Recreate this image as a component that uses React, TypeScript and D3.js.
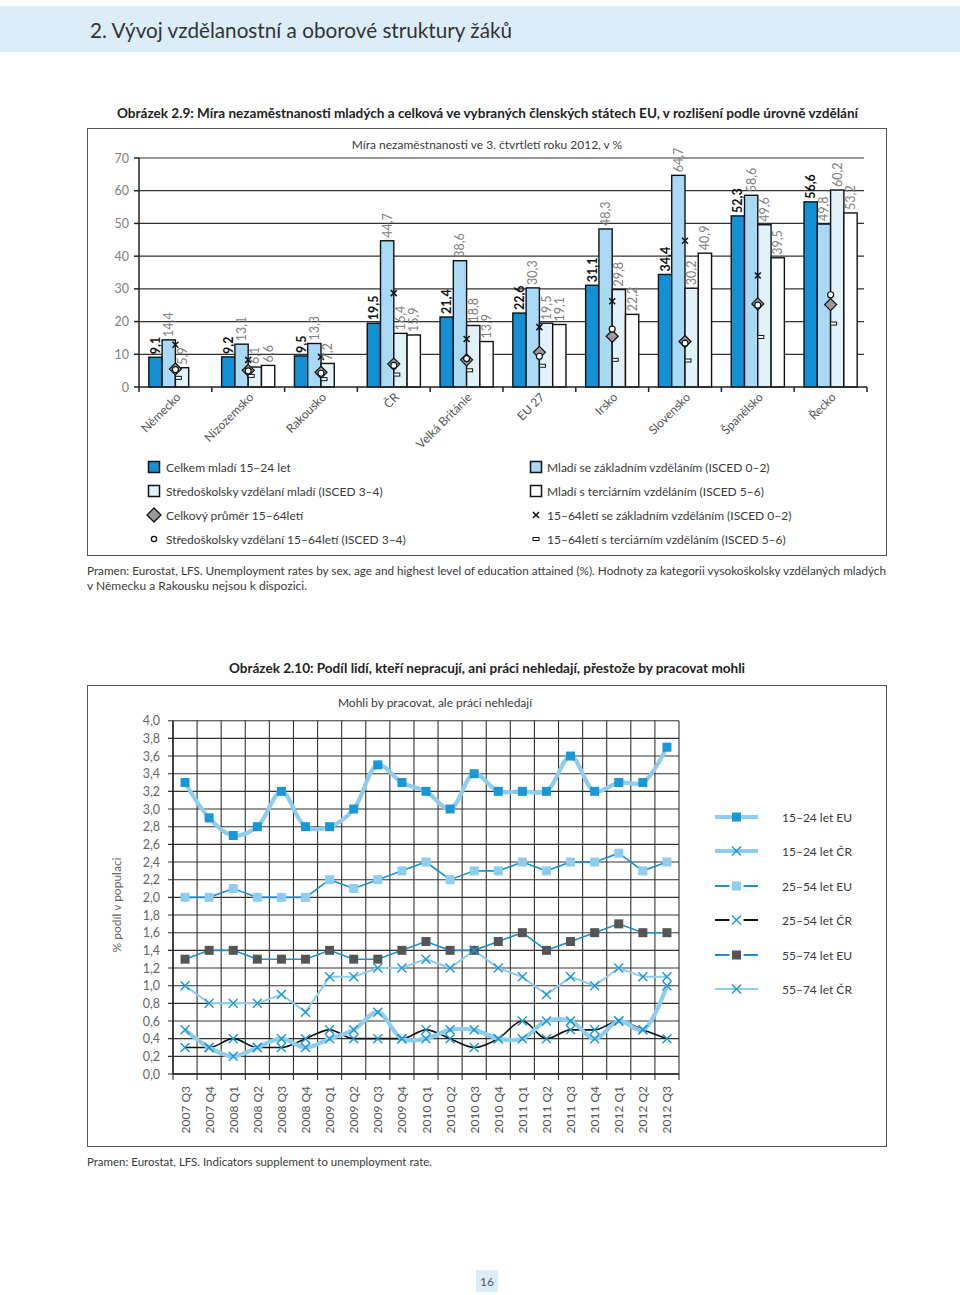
import React from 'react';
import * as d3 from 'd3';

// ---------- Chart 2.9 data ----------
const countries = ['Německo', 'Nizozemsko', 'Rakousko', 'ČR', 'Velká Británie', 'EU 27', 'Irsko', 'Slovensko', 'Španělsko', 'Řecko'];
const youthTotal = [9.1, 9.2, 9.5, 19.5, 21.4, 22.6, 31.1, 34.4, 52.3, 56.6];
const youthBasic = [14.4, 13.1, 13.3, 44.7, 38.6, 30.3, 48.3, 64.7, 58.6, 49.8];
const youthUpperSec = [5.9, 6.1, 7.2, 16.4, 18.8, 19.5, 29.8, 30.2, 49.6, 60.2];
const youthTertiary: (number | null)[] = [null, 6.6, null, 15.9, 13.9, 19.1, 22.2, 40.9, 39.5, 53.2];
const adultTotal = [5.5, 5.1, 4.5, 7.0, 8.3, 10.6, 15.5, 13.9, 25.4, 25.2];
const adultBasic: (number | null)[] = [12.9, 8.3, 9.2, 28.7, 14.7, 18.3, 26.2, 44.7, 34.1, null];
const adultUpperSec = [5.3, 4.9, 4.2, 6.6, 8.7, 9.4, 17.7, 13.4, 25.0, 28.2];
const adultTertiary = [2.8, 3.4, 2.4, 3.8, 5.1, 6.5, 8.3, 8.1, 15.3, 19.4];
const topTicks = [0, 10, 20, 30, 40, 50, 60, 70];

// ---------- Chart 2.10 data ----------
const quarters = ['2007 Q3', '2007 Q4', '2008 Q1', '2008 Q2', '2008 Q3', '2008 Q4', '2009 Q1', '2009 Q2', '2009 Q3', '2009 Q4', '2010 Q1', '2010 Q2', '2010 Q3', '2010 Q4', '2011 Q1', '2011 Q2', '2011 Q3', '2011 Q4', '2012 Q1', '2012 Q2', '2012 Q3'];
const eu1524 = [3.3, 2.9, 2.7, 2.8, 3.2, 2.8, 2.8, 3.0, 3.5, 3.3, 3.2, 3.0, 3.4, 3.2, 3.2, 3.2, 3.6, 3.2, 3.3, 3.3, 3.7];
const cz1524 = [0.5, 0.3, 0.2, 0.3, 0.4, 0.3, 0.4, 0.5, 0.7, 0.4, 0.4, 0.5, 0.5, 0.4, 0.4, 0.6, 0.6, 0.4, 0.6, 0.5, 1.0];
const eu2554 = [2.0, 2.0, 2.1, 2.0, 2.0, 2.0, 2.2, 2.1, 2.2, 2.3, 2.4, 2.2, 2.3, 2.3, 2.4, 2.3, 2.4, 2.4, 2.5, 2.3, 2.4];
const cz2554 = [0.3, 0.3, 0.4, 0.3, 0.3, 0.4, 0.5, 0.4, 0.4, 0.4, 0.5, 0.4, 0.3, 0.4, 0.6, 0.4, 0.5, 0.5, 0.6, 0.5, 0.4];
const eu5574 = [1.3, 1.4, 1.4, 1.3, 1.3, 1.3, 1.4, 1.3, 1.3, 1.4, 1.5, 1.4, 1.4, 1.5, 1.6, 1.4, 1.5, 1.6, 1.7, 1.6, 1.6];
const cz5574 = [1.0, 0.8, 0.8, 0.8, 0.9, 0.7, 1.1, 1.1, 1.2, 1.2, 1.3, 1.2, 1.4, 1.2, 1.1, 0.9, 1.1, 1.0, 1.2, 1.1, 1.1];
const bottomTicks = d3.range(0, 21).map((i) => i * 0.2);

const FONT = "Lato, 'DejaVu Sans', sans-serif";
const TXT = '#3a3a3a';
const GREY = '#808080';

const C_DARK = '#138fd3';
const C_LIGHT = '#a9d9f4';
const C_PALE = '#e2f2fb';
const C_WHITE = '#ffffff';

const L_THICK = '#8fcdef';
const L_BLUE = '#1e8fcf';
const M_BLUE = '#1a97d6';
const M_LIGHTSQ = '#8dcdf0';
const M_DARKSQ = '#555555';

function fmt(v: number, d = 1) {
  return v.toFixed(d).replace('.', ',');
}

function XMark({ x, y, s, stroke, w }: { x: number; y: number; s: number; stroke: string; w: number }) {
  return (
    <path d={`M${x - s},${y - s}L${x + s},${y + s}M${x - s},${y + s}L${x + s},${y - s}`} stroke={stroke} strokeWidth={w} fill="none" />
  );
}

function TopChart() {
  const x0 = 139, x1 = 867, yTop = 158, yBot = 387;
  const xg = d3.scaleBand<string>().domain(countries).range([x0, x1]);
  const keys = ['t', 'b', 's', 'r'];
  const xi = d3.scaleBand<string>().domain(keys).range([0, xg.bandwidth()]).paddingOuter(0.74);
  const y = d3.scaleLinear().domain([0, 70]).range([yBot, yTop]);
  const series: { key: string; vals: (number | null)[]; fill: string; bold: boolean }[] = [
    { key: 't', vals: youthTotal, fill: C_DARK, bold: true },
    { key: 'b', vals: youthBasic, fill: C_LIGHT, bold: false },
    { key: 's', vals: youthUpperSec, fill: C_PALE, bold: false },
    { key: 'r', vals: youthTertiary, fill: C_WHITE, bold: false },
  ];
  const bw = xi.bandwidth();
  return (
    <g>
      <rect x={87.5} y={128.5} width={799} height={427} fill="none" stroke="#555" strokeWidth={1} />
      <text x={487} y={149} textAnchor="middle" fontSize={12} fill={TXT} fontFamily={FONT}>
        Míra nezaměstnanosti ve 3. čtvrtletí roku 2012, v %
      </text>
      {topTicks.map((t) => (
        <g key={t}>
          {t > 0 && <line x1={x0} x2={864} y1={y(t)} y2={y(t)} stroke="#333" strokeWidth={1.2} />}
          <line x1={x0 - 5} x2={x0} y1={y(t)} y2={y(t)} stroke="#222" strokeWidth={1.5} />
          <text x={129} y={y(t) + 4.5} textAnchor="end" fontSize={12.5} fill={GREY} fontFamily={FONT}>{t}</text>
        </g>
      ))}
      {countries.map((c, ci) => (
        <g key={c}>
          {series.map((s) => {
            const v = s.vals[ci];
            if (v == null) return null;
            const bx = (xg(c) as number) + (xi(s.key) as number);
            return (
              <rect key={s.key} x={bx} y={y(v)} width={bw} height={yBot - y(v)} fill={s.fill} stroke="#111" strokeWidth={1.4} />
            );
          })}
        </g>
      ))}
      <line x1={x0} x2={x0} y1={yTop} y2={yBot} stroke="#222" strokeWidth={1.5} />
      <line x1={x0} x2={x1} y1={yBot} y2={yBot} stroke="#222" strokeWidth={1.5} />
      {d3.range(0, countries.length + 1).map((i) => {
        const xx = x0 + i * xg.step();
        return <line key={i} x1={xx} x2={xx} y1={yBot} y2={yBot + 5} stroke="#222" strokeWidth={1.5} />;
      })}
      {countries.map((c, ci) => {
        const cx = (xg(c) as number) + xg.bandwidth() / 2;
        const items: JSX.Element[] = [];
        const dv = adultTotal[ci];
        const ds = 6;
        items.push(
          <path key="d" d={`M${cx},${y(dv) - ds}L${cx + ds},${y(dv)}L${cx},${y(dv) + ds}L${cx - ds},${y(dv)}Z`} fill="#9a9a9a" stroke="#111" strokeWidth={1.2} />
        );
        items.push(<circle key="o" cx={cx} cy={y(adultUpperSec[ci])} r={3} fill="#fff" stroke="#111" strokeWidth={1.2} />);
        const b = adultBasic[ci];
        if (b != null) items.push(<XMark key="x" x={cx} y={y(b)} s={3} stroke="#111" w={1.5} />);
        items.push(<rect key="r" x={cx} y={y(adultTertiary[ci]) - 1.5} width={6} height={3} fill="#fff" stroke="#111" strokeWidth={1} />);
        return <g key={c}>{items}</g>;
      })}
      {countries.map((c, ci) => (
        <g key={c}>
          {series.map((s) => {
            const v = s.vals[ci];
            if (v == null) return null;
            const bx = (xg(c) as number) + (xi(s.key) as number) + bw / 2 + 4.5;
            const by = y(v) - 3;
            return (
              <text key={s.key} transform={`translate(${bx},${by}) rotate(-90)`} fontSize={12.5} fontWeight={s.bold ? 700 : 400} fill={s.bold ? '#111' : GREY} fontFamily={FONT}>
                {fmt(v)}
              </text>
            );
          })}
        </g>
      ))}
      {countries.map((c) => {
        const cx = (xg(c) as number) + xg.bandwidth() / 2 + 6;
        return (
          <text key={c} transform={`translate(${cx},${yBot + 11}) rotate(-45)`} textAnchor="end" fontSize={12} fill="#555" fontFamily={FONT}>
            {c}
          </text>
        );
      })}
    </g>
  );
}

function TopLegend() {
  const rows = [467, 491, 515, 539];
  const leftX = 148, rightX = 530;
  const sq = (x: number, y: number, fill: string) => (
    <rect x={x + 0.5} y={y - 5.5} width={11} height={11} fill={fill} stroke="#111" strokeWidth={1.5} />
  );
  const label = (x: number, y: number, t: string) => (
    <text x={x} y={y + 4.5} fontSize={12} fill={TXT} fontFamily={FONT}>{t}</text>
  );
  return (
    <g>
      {sq(leftX, rows[0], C_DARK)}
      {label(166, rows[0], 'Celkem mladí 15–24 let')}
      {sq(leftX, rows[1], C_PALE)}
      {label(166, rows[1], 'Středoškolsky vzdělaní mladí (ISCED 3–4)')}
      <path d={`M${leftX + 6},${rows[2] - 7}L${leftX + 13},${rows[2]}L${leftX + 6},${rows[2] + 7}L${leftX - 1},${rows[2]}Z`} fill="#9a9a9a" stroke="#111" strokeWidth={1.3} />
      {label(166, rows[2], 'Celkový průměr 15–64letí')}
      <circle cx={leftX + 6} cy={rows[3]} r={2.6} fill="#fff" stroke="#111" strokeWidth={1.3} />
      {label(166, rows[3], 'Středoškolsky vzdělaní 15–64letí (ISCED 3–4)')}
      {sq(rightX, rows[0], C_LIGHT)}
      {label(547, rows[0], 'Mladí se základním vzděláním (ISCED 0–2)')}
      {sq(rightX, rows[1], C_WHITE)}
      {label(547, rows[1], 'Mladí s terciárním vzděláním (ISCED 5–6)')}
      <XMark x={rightX + 6} y={rows[2]} s={3} stroke="#111" w={1.5} />
      {label(547, rows[2], '15–64letí se základním vzděláním (ISCED 0–2)')}
      <rect x={rightX + 3} y={rows[3] - 1.5} width={6} height={3} fill="#fff" stroke="#111" strokeWidth={1} />
      {label(547, rows[3], '15–64letí s terciárním vzděláním (ISCED 5–6)')}
    </g>
  );
}

function BottomChart() {
  const x0 = 173, x1 = 679, yTop = 720.7, yBot = 1074;
  const x = d3.scaleBand<string>().domain(quarters).range([x0, x1]);
  const y = d3.scaleLinear().domain([0, 4]).range([yBot, yTop]);
  const cx = (i: number) => (x(quarters[i]) as number) + x.bandwidth() / 2;
  const mk = (vals: number[], curve: d3.CurveFactory) =>
    d3.line<number>().x((_, i) => cx(i)).y((v) => y(v)).curve(curve)(vals) as string;
  const sqMarks = (vals: number[], fill: string, s: number) =>
    vals.map((v, i) => <rect key={i} x={cx(i) - s / 2} y={y(v) - s / 2} width={s} height={s} fill={fill} />);
  const xMarks = (vals: number[], s: number) =>
    vals.map((v, i) => <XMark key={i} x={cx(i)} y={y(v)} s={s} stroke={M_BLUE} w={1.4} />);
  return (
    <g>
      <rect x={87.5} y={685.5} width={799} height={461} fill="none" stroke="#555" strokeWidth={1} />
      <text x={435} y={707} textAnchor="middle" fontSize={12} fill={TXT} fontFamily={FONT}>
        Mohli by pracovat, ale práci nehledají
      </text>
      {bottomTicks.map((t, i) => (
        <g key={i}>
          <line x1={x0 - 5} x2={x1} y1={y(t)} y2={y(t)} stroke="#333" strokeWidth={1.1} />
          <text x={160} y={y(t) + 4.5} textAnchor="end" fontSize={12.5} fill="#666" fontFamily={FONT}>{fmt(t)}</text>
        </g>
      ))}
      {d3.range(0, quarters.length + 1).map((i) => {
        const xx = x0 + i * x.step();
        return <line key={i} x1={xx} x2={xx} y1={yTop} y2={yBot + 6} stroke="#333" strokeWidth={1.1} />;
      })}
      <line x1={x0} x2={x0} y1={yTop} y2={yBot} stroke="#222" strokeWidth={1.4} />
      <line x1={x0} x2={x1} y1={yBot} y2={yBot} stroke="#222" strokeWidth={1.4} />
      <text transform={`translate(121,905) rotate(-90)`} textAnchor="middle" fontSize={12} fill="#666" fontFamily={FONT}>
        % podíl v populaci
      </text>
      {quarters.map((q, i) => (
        <text key={q} transform={`translate(${cx(i) + 4.5},${yBot + 12}) rotate(-90)`} textAnchor="end" fontSize={12} fill="#555" fontFamily={FONT}>
          {q}
        </text>
      ))}
      <path d={mk(cz5574, d3.curveLinear)} fill="none" stroke={L_THICK} strokeWidth={2} />
      <path d={mk(eu5574, d3.curveLinear)} fill="none" stroke={L_BLUE} strokeWidth={1.6} />
      <path d={mk(eu2554, d3.curveLinear)} fill="none" stroke={L_BLUE} strokeWidth={1.6} />
      <path d={mk(cz2554, d3.curveMonotoneX)} fill="none" stroke="#111" strokeWidth={1.6} />
      <path d={mk(cz1524, d3.curveCatmullRom)} fill="none" stroke={L_THICK} strokeWidth={4.2} />
      <path d={mk(eu1524, d3.curveCatmullRom)} fill="none" stroke={L_THICK} strokeWidth={4.2} />
      {sqMarks(eu5574, M_DARKSQ, 9)}
      {sqMarks(eu2554, M_LIGHTSQ, 9)}
      {sqMarks(eu1524, M_BLUE, 9)}
      {xMarks(cz5574, 4.5)}
      {xMarks(cz2554, 4.5)}
      {xMarks(cz1524, 4.5)}
    </g>
  );
}

function BottomLegend() {
  const rows = [817, 851, 886, 920, 955, 989];
  const lx0 = 715, lx1 = 758, mx = 736.5, tx = 782;
  const items = [
    { label: '15–24 let EU', line: L_THICK, lw: 4, mark: 'sq', mfill: M_BLUE },
    { label: '15–24 let ČR', line: L_THICK, lw: 4, mark: 'x', mfill: M_BLUE },
    { label: '25–54 let EU', line: L_BLUE, lw: 1.8, mark: 'sq', mfill: M_LIGHTSQ },
    { label: '25–54 let ČR', line: '#111', lw: 1.8, mark: 'x', mfill: M_BLUE },
    { label: '55–74 let EU', line: L_BLUE, lw: 1.8, mark: 'sq', mfill: M_DARKSQ },
    { label: '55–74 let ČR', line: L_THICK, lw: 2, mark: 'x', mfill: M_BLUE },
  ];
  return (
    <g>
      {items.map((it, i) => (
        <g key={it.label}>
          <line x1={lx0} x2={lx1} y1={rows[i]} y2={rows[i]} stroke={it.line} strokeWidth={it.lw} />
          {it.mark === 'sq' ? (
            <g>
              {it.lw < 3 && <rect x={mx - 7} y={rows[i] - 6} width={14} height={12} fill="#fff" />}
              <rect x={mx - 4.5} y={rows[i] - 4.5} width={9} height={9} fill={it.mfill} />
            </g>
          ) : (
            <g>
              {it.lw < 3 && it.line === '#111' && <rect x={mx - 7} y={rows[i] - 6} width={14} height={12} fill="#fff" />}
              <XMark x={mx} y={rows[i]} s={4.5} stroke={M_BLUE} w={1.4} />
            </g>
          )}
          <text x={tx} y={rows[i] + 4.5} fontSize={12} fill={TXT} fontFamily={FONT}>{it.label}</text>
        </g>
      ))}
    </g>
  );
}

export default function App() {
  return (
    <svg width={960} height={1295} style={{ position: 'absolute', left: 0, top: 0, background: '#fff' }} fontFamily={FONT}>
      <rect x={0} y={0} width={960} height={1295} fill="#fff" />
      <rect x={0} y={6} width={960} height={46} fill="#dcedfa" />
      <text x={90} y={38} fontSize={21} fill="#333" fontFamily={FONT} textLength={422} lengthAdjust="spacingAndGlyphs">
        2. Vývoj vzdělanostní a oborové struktury žáků
      </text>
      <text x={117} y={118} fontSize={13} fontWeight={700} fill="#222" fontFamily={FONT} textLength={741} lengthAdjust="spacingAndGlyphs">
        Obrázek 2.9: Míra nezaměstnanosti mladých a celková ve vybraných členských státech EU, v rozlišení podle úrovně vzdělání
      </text>
      <TopChart />
      <TopLegend />
      <text x={87} y={575} fontSize={12} fill={TXT} fontFamily={FONT} textLength={799} lengthAdjust="spacingAndGlyphs">
        Pramen: Eurostat, LFS. Unemployment rates by sex, age and highest level of education attained (%). Hodnoty za kategorii vysokoškolsky vzdělaných mladých
      </text>
      <text x={87} y={590} fontSize={12} fill={TXT} fontFamily={FONT} textLength={220} lengthAdjust="spacingAndGlyphs">
        v Německu a Rakousku nejsou k dispozici.
      </text>
      <text x={229} y={673} fontSize={13} fontWeight={700} fill="#222" fontFamily={FONT} textLength={516} lengthAdjust="spacingAndGlyphs">
        Obrázek 2.10: Podíl lidí, kteří nepracují, ani práci nehledají, přestože by pracovat mohli
      </text>
      <BottomChart />
      <BottomLegend />
      <text x={87} y={1166} fontSize={12} fill={TXT} fontFamily={FONT} textLength={345} lengthAdjust="spacingAndGlyphs">
        Pramen: Eurostat, LFS. Indicators supplement to unemployment rate.
      </text>
      <rect x={476} y={1270} width={22} height={22} fill="#dcedfa" />
      <text x={487} y={1286} textAnchor="middle" fontSize={12} fill="#555" fontFamily={FONT}>16</text>
    </svg>
  );
}
